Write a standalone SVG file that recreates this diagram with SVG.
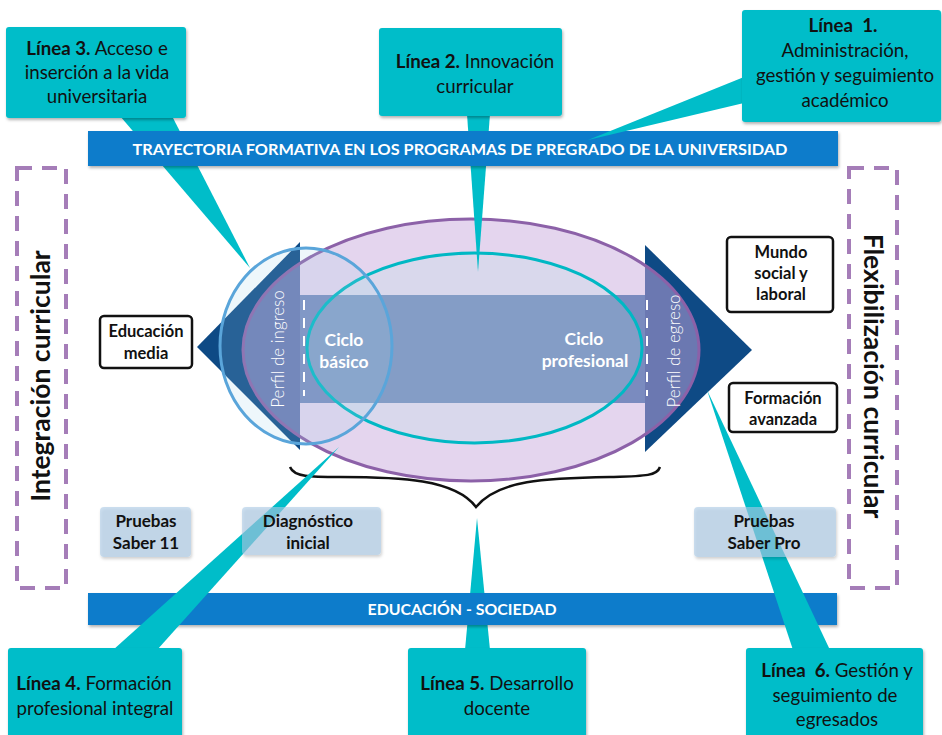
<svg xmlns="http://www.w3.org/2000/svg" width="942" height="735" viewBox="0 0 942 735">
<style>
text{font-family:Lato,"Open Sans","Liberation Sans",sans-serif;}
.call{fill:#00BDC9;}
.ct{font-size:18.7px;fill:#111;text-anchor:middle;}
.b{font-weight:bold;}
.bar{fill:#0A7BCB;}
.bart{font-size:15px;font-weight:bold;fill:#fff;text-anchor:middle;}
.dash{fill:none;stroke:#A57DB8;stroke-width:4;stroke-dasharray:15 10;}
.vt{font-size:26.5px;font-weight:bold;fill:#111;text-anchor:middle;}
.bx{fill:#fff;stroke:#111;stroke-width:2.5;}
.bxt{font-size:16.5px;font-weight:bold;fill:#111;text-anchor:middle;}
.lb{fill:#AACAE6;fill-opacity:0.6;}
.lbt{font-size:17px;font-weight:bold;fill:#111;text-anchor:middle;}
.wt{font-size:17.5px;font-weight:bold;fill:#fff;text-anchor:middle;}
.pf{font-size:17px;fill:#fff;text-anchor:middle;font-weight:300;}
</style>
<defs>
<filter id="sh" x="-10%" y="-10%" width="130%" height="130%">
<feDropShadow dx="1" dy="2" stdDeviation="1.5" flood-color="#000" flood-opacity="0.3"/>
</filter>
<clipPath id="ell"><ellipse cx="471" cy="350" rx="228" ry="131"/></clipPath>
</defs>

<g id="integracion">
<rect class="dash" x="17" y="168" width="49" height="420"/>
<text class="vt" transform="translate(50,376) rotate(-90)">Integración curricular</text>
</g>
<g id="flexibilizacion">
<rect class="dash" x="849" y="168" width="48" height="420"/>
<text class="vt" transform="translate(864,376) rotate(90)">Flexibilización curricular</text>
</g>

<g id="trayectoria">
<ellipse cx="471" cy="350" rx="228" ry="131" fill="#E4D5EE"/>
<polygon points="300,242 197,347 300,450" fill="#0E4A85"/>
<polygon points="645,245 752,350 645,452" fill="#0E4A85"/>
<g clip-path="url(#ell)">
<polygon points="300,242 197,347 300,450" fill="#6B78B1"/>
<polygon points="645,245 752,350 645,452" fill="#6B78B1"/>
</g>
<rect x="300" y="295" width="345" height="108" fill="#7A8BBF"/>
<ellipse cx="474.5" cy="348" rx="167.5" ry="95" fill="#B1E8E4" fill-opacity="0.2" stroke="#00B8C4" stroke-width="3"/>
<ellipse cx="471" cy="350" rx="228" ry="131" fill="none" stroke="#8C61A8" stroke-width="3"/>
<ellipse cx="306" cy="346" rx="86" ry="98" fill="#9FD0EA" fill-opacity="0.18" stroke="#5AA5DA" stroke-width="3"/>
<line x1="304" y1="300" x2="304" y2="396" stroke="#fff" stroke-width="2" stroke-dasharray="10 8"/>
<line x1="647" y1="300" x2="647" y2="396" stroke="#fff" stroke-width="2" stroke-dasharray="10 8"/>
<text class="pf" transform="translate(284,349) rotate(-90)">Perfil de ingreso</text>
<text class="pf" transform="translate(680,351) rotate(-90)">Perfil de egreso</text>
<text class="wt" x="344" y="346">Ciclo</text>
<text class="wt" x="344" y="368">básico</text>
<text class="wt" x="584" y="345">Ciclo</text>
<text class="wt" x="585" y="367">profesional</text>
</g>

<g id="brace">
<path d="M290,467 C294,477 310,477 340,477 C400,477 455,479 476,507 C498,480 545,478 610,477 C645,476 657,476 660,467" fill="none" stroke="#111" stroke-width="2.5"/>
</g>

<g id="connectors-back">
<polygon class="call" points="120,116 172,116 250,268"/>
<polygon class="call" points="467,114 490,114 478,272"/>
<polygon class="call" points="465,650 490,650 477,518"/>
</g>

<g id="bars">
<rect class="bar" x="88" y="131" width="750" height="35" filter="url(#sh)"/>
<text class="bart" x="460" y="155" textLength="655" lengthAdjust="spacingAndGlyphs">TRAYECTORIA FORMATIVA EN LOS PROGRAMAS DE PREGRADO DE LA UNIVERSIDAD</text>
<rect class="bar" x="88" y="593" width="749" height="32" filter="url(#sh)"/>
<text class="bart" x="462" y="615" textLength="189" lengthAdjust="spacingAndGlyphs">EDUCACIÓN - SOCIEDAD</text>
</g>

<g id="educacion-media">
<rect class="bx" x="100" y="316" width="92" height="52" rx="4"/>
<text class="bxt" x="146" y="337">Educación</text>
<text class="bxt" x="146" y="359">media</text>
</g>
<g id="mundo-social">
<rect class="bx" x="727" y="237" width="106" height="75" rx="4"/>
<text class="bxt" x="781" y="258">Mundo</text>
<text class="bxt" x="781" y="279">social y</text>
<text class="bxt" x="781" y="300">laboral</text>
</g>
<g id="formacion-avanzada">
<rect class="bx" x="729" y="383" width="108" height="49" rx="4"/>
<text class="bxt" x="783" y="404">Formación</text>
<text class="bxt" x="783" y="425">avanzada</text>
</g>

<g id="connectors-front">
<polygon class="call" points="744,77 744,103 588,140"/>
<polygon class="call" points="113,650 157,650 339,447"/>
<polygon class="call" points="793,650 830,650 707,390"/>
</g>

<g id="linea3">
<rect class="call" x="6" y="27" width="180" height="91" rx="3" filter="url(#sh)"/>
<text class="ct" x="97" y="55"><tspan class="b">Línea 3.</tspan> Acceso e</text>
<text class="ct" x="97" y="79">inserción a la vida</text>
<text class="ct" x="97" y="103">universitaria</text>
</g>
<g id="linea2">
<rect class="call" x="379" y="28" width="183" height="88" rx="3" filter="url(#sh)"/>
<text class="ct" x="475" y="68"><tspan class="b">Línea 2.</tspan> Innovación</text>
<text class="ct" x="475" y="93">curricular</text>
</g>
<g id="linea1">
<rect class="call" x="742" y="10" width="199" height="112" rx="3" filter="url(#sh)"/>
<text class="ct b" x="843" y="32" xml:space="preserve">Línea  1.</text>
<text class="ct" x="845" y="57">Administración,</text>
<text class="ct" x="845" y="82">gestión y seguimiento</text>
<text class="ct" x="845" y="107">académico</text>
</g>
<g id="linea4">
<rect class="call" x="8" y="648" width="174" height="92" rx="3" filter="url(#sh)"/>
<text class="ct" x="94" y="690"><tspan class="b">Línea 4.</tspan> Formación</text>
<text class="ct" x="95" y="715">profesional integral</text>
</g>
<g id="linea5">
<rect class="call" x="408" y="648" width="178" height="92" rx="3" filter="url(#sh)"/>
<text class="ct" x="497" y="690"><tspan class="b">Línea 5.</tspan> Desarrollo</text>
<text class="ct" x="497" y="715">docente</text>
</g>
<g id="linea6">
<rect class="call" x="746" y="648" width="177" height="92" rx="3" filter="url(#sh)"/>
<text class="ct" x="837" y="677" xml:space="preserve"><tspan class="b">Línea  6.</tspan> Gestión y</text>
<text class="ct" x="835" y="702">seguimiento de</text>
<text class="ct" x="837" y="726">egresados</text>
</g>

<g id="pruebas-saber-11">
<rect class="lb" x="100" y="507" width="91" height="50" rx="4" filter="url(#sh)"/>
<text class="lbt" x="146" y="527">Pruebas</text>
<text class="lbt" x="146" y="549">Saber 11</text>
</g>
<g id="diagnostico-inicial">
<rect class="lb" x="242" y="507" width="139" height="48" rx="4" filter="url(#sh)"/>
<text class="lbt" x="308" y="527">Diagnóstico</text>
<text class="lbt" x="308" y="549">inicial</text>
</g>
<g id="pruebas-saber-pro">
<rect class="lb" x="694" y="507" width="142" height="50" rx="4" filter="url(#sh)"/>
<text class="lbt" x="764" y="527">Pruebas</text>
<text class="lbt" x="764" y="549">Saber Pro</text>
</g>
</svg>
